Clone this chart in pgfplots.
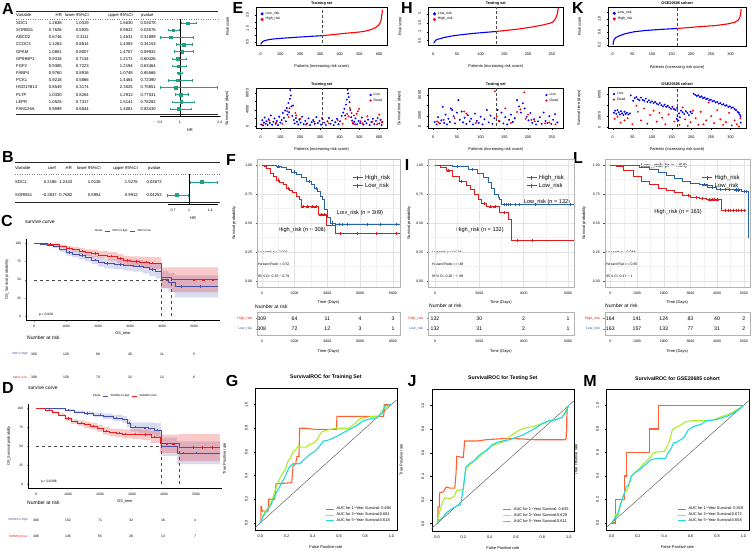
\documentclass[border=0pt]{standalone}
\usepackage{fontspec}
\setmainfont{Liberation Sans}
\usepackage{pgfplots}
\pgfplotsset{compat=1.18}
\newcommand{\fs}[1]{\fontsize{#1}{#1}\selectfont}
\definecolor{fteal}{RGB}{32,160,130}
\definecolor{cblue}{RGB}{70,80,170}
\definecolor{cred}{RGB}{232,30,30}
\definecolor{kmred}{RGB}{226,26,28}
\definecolor{kmblue}{RGB}{38,100,170}
\definecolor{rocO}{RGB}{255,95,50}
\definecolor{rocG}{RGB}{170,238,40}
\definecolor{rocC}{RGB}{30,215,225}
\pgfplotsset{
 every axis/.append style={scale only axis, anchor=north west, /pgf/number format/assume math mode=true, /pgf/number format/1000 sep={}, scaled ticks=false, tick label style={font=\fs{3.5}}, label style={font=\fs{4}}, title style={font=\fs{4.5}\bfseries}},
 baseR/.style={tick align=outside, tick pos=left, major tick length=1.4pt, axis line style={line width=0.4pt}, tick style={line width=0.3pt, black}, tick label style={font=\fs{3.8}}, yticklabel style={rotate=90, anchor=south, yshift=2.5pt}, title style={yshift=-7.5pt, font=\fs{3.8}\bfseries}, xlabel style={yshift=-4pt}, ylabel style={yshift=10pt}},
 riskax/.style={baseR, xticklabel style={yshift=-2.5pt}, xlabel style={yshift=1.5pt}, legend style={draw=none, fill=none, font=\fs{3.5}, inner sep=0.5pt, row sep=-2.5pt}, legend cell align=left, legend image code/.code={\fill[##1] (1.5pt,0pt) circle (0.9pt);}},
 ggkm/.style={tick align=outside, tick pos=left, major tick length=1.4pt, axis line style={gray!60, line width=0.4pt}, tick style={gray!60!black}, grid=both, major grid style={gray!22, line width=0.35pt}, minor grid style={gray!10, line width=0.25pt}, minor tick num=1, minor tick length=0pt, ymin=-0.05, ymax=1.05, ytick={0,0.25,0.5,0.75,1}, yticklabels={0.00,0.25,0.50,0.75,1.00}, xlabel={Time (Days)}, legend style={draw=none, fill=none, font=\fs{6}, inner sep=0.5pt, row sep=-1.5pt, at={(0.95,0.9)}, anchor=north east}, legend cell align=left, legend image code/.code={\draw[##1, mark indices={2}] plot coordinates {(0pt,0pt) (5pt,0pt) (10pt,0pt)};}},
 rtab/.style={tick align=outside, tick pos=left, major tick length=1.4pt, axis line style={gray!60, line width=0.4pt}, ymin=0, ymax=1, ytick={0.27,0.73}, xlabel={Time (Days)}, nodes near coords style={font=\fs{5.2}, anchor=center}},
 roc/.style={baseR, title style={yshift=6pt, font=\fs{5.2}\bfseries}, ylabel style={yshift=2pt}, xlabel style={yshift=3pt}, xmin=-0.04, xmax=1.04, ymin=-0.06, ymax=1.14, xtick={0,0.2,0.4,0.6,0.8,1}, ytick={0,0.2,0.4,0.6,0.8,1}, xticklabels={0.0,0.2,0.4,0.6,0.8,1.0}, yticklabels={0.0,0.2,0.4,0.6,0.8,1.0}, xlabel={False Positive rate}, ylabel={True Positive rate}, legend style={at={(0.98,0.03)}, anchor=south east, draw=none, fill=none, font=\fs{3.9}, inner sep=0.5pt, row sep=-2.5pt}, legend cell align=left, legend image code/.code={\draw[##1] (0pt,0pt) -- (8pt,0pt);}},
 kmc/.style={xmin=-250, xmax=5800, ymin=-5, ymax=105, axis lines*=left, tick align=outside, major tick length=1.4pt, xtick={0,1000,2000,3000,4000,5000}, ytick={0,25,50,75,100}, tick label style={font=\fs{3.3}}, xlabel={OS\_time}, ylabel={OS\_Survival probability}, label style={font=\fs{3.8}}, xlabel style={yshift=2pt}, legend style={at={(0.5,1.04)}, anchor=south, legend columns=-1, draw=none, fill=none, font=\fs{2.8}, inner sep=0.5pt}, legend image code/.code={\draw[##1, line width=1.2pt] (0pt,0pt) -- (5pt,0pt);}},
}
\begin{document}
\begin{tikzpicture}
\path[use as bounding box] (0,0) rectangle (753pt,-550pt);
\begin{scope}[x=1pt,y=-1pt, every node/.style={inner sep=0pt}]
\foreach \t/\x/\y in {A/8/9,B/8/157,C/7/221,D/8/388,E/238/8,F/231/160,G/232/381,H/407/8,I/407/165,J/412/381,K/578/8,L/578/158,M/590/381}
  \node[font=\fs{16}\bfseries] at (\x,\y) {\t};
\draw[line width=0.8pt, gray!30!black] (16,11) -- (218,11);
\draw[dotted, gray] (16,19) -- (218,19);
\draw[line width=0.6pt, gray!30!black] (16,114) -- (218,114);
\begin{scope}[every node/.style={font=\fs{4.2}, inner sep=0pt}]
\node[anchor=west] at (16,15) {Variable};
\node[anchor=east] at (62,15) {HR};
\node[anchor=east] at (89,15) {lower 95\%CI};
\node[anchor=east] at (133,15) {upper 95\%CI};
\node[anchor=west] at (141,15) {pvalue};
\foreach \i/\v/\h/\l/\u/\p in {1/SDC1/1.2638/1.0319/1.5630/0.03078,2/SORBS1/0.7626/0.5925/0.9822/0.03576,3/ABCD2/0.6746/0.3111/1.4631/0.31899,4/CCDC3/1.1263/0.8814/1.4393/0.34153,5/GPAM/1.0851/0.8007/1.4707/0.59932,6/GPIHBP1/0.9318/0.7134/1.2171/0.60426,7/FGF2/0.9385/0.7223/1.2194/0.63464,8/FABP4/0.9760/0.8916/1.0748/0.65566,9/PCK1/0.9218/0.5866/1.4484/0.72390,10/HSD17B13/0.8549/0.3174/2.3025/0.75651,11/PLTP/1.0330/0.8264/1.2913/0.77531,12/LEPR/1.0525/0.7317/1.5141/0.78282,13/FAM126A/0.9599/0.6544/1.4081/0.83430}{
 \pgfmathsetmacro\yy{23+(\i-1)*7.17}
 \node[anchor=west] at (16,\yy) {\v};
 \node[anchor=east] at (62,\yy) {\h};
 \node[anchor=east] at (89,\yy) {\l};
 \node[anchor=east] at (133,\yy) {\u};
 \node[anchor=east] at (156,\yy) {\p};
}
\draw[line width=0.8pt, gray!30!black] (15,162) -- (220,162);
\draw[dotted, gray] (15,174) -- (220,174);
\draw[line width=0.6pt, gray!30!black] (15,202) -- (220,202);
\node[anchor=west] at (15,168) {Variable};
\node[anchor=east] at (56,168) {coef};
\node[anchor=east] at (72,168) {HR};
\node[anchor=east] at (101,168) {lower 95\%CI};
\node[anchor=east] at (138,168) {upper 95\%CI};
\node[anchor=west] at (148,168) {pvalue};
\node[anchor=west] at (15,182) {SDC1};
\node[anchor=east] at (57,182) {0.2186};
\node[anchor=east] at (72.5,182) {1.2443};
\node[anchor=east] at (101,182) {1.0136};
\node[anchor=east] at (138,182) {1.5276};
\node[anchor=east] at (162,182) {0.03673};
\node[anchor=west] at (15,195) {SORBS1};
\node[anchor=east] at (57,195) {−0.2637};
\node[anchor=east] at (72.5,195) {0.7682};
\node[anchor=east] at (101,195) {0.5954};
\node[anchor=east] at (138,195) {0.9912};
\node[anchor=east] at (162,195) {0.04253};
\end{scope}
\node[anchor=west, font=\fs{5}] at (25,222) {survive curve};
\node[anchor=west, font=\fs{5}] at (28,388) {survive curve};
\node[anchor=west, font=\fs{5}] at (27,338) {Number at risk};
\node[anchor=west, font=\fs{5}] at (27,503) {Number at risk};
\node[font=\fs{3}, cblue] at (20,354) {SDC1=High};
\node[font=\fs{3}, cred] at (20,377) {SDC1=low};
\node[font=\fs{3}, cblue] at (18,520) {SORBS1=High};
\node[font=\fs{3}, cred] at (18,536) {SORBS1=low};
\foreach \x/\v in {34/309,66/129,98/68,130/26,162/11,194/5} \node[font=\fs{3.4}] at (\x,354) {\v};
\foreach \x/\v in {34/308,66/159,98/70,130/32,162/12,194/6} \node[font=\fs{3.4}] at (\x,377) {\v};
\foreach \x/\v in {36/309,68/152,100/71,131/32,163/16,195/4} \node[font=\fs{3.4}] at (\x,520) {\v};
\foreach \x/\v in {36/308,68/136,100/65,131/26,163/13,195/7} \node[font=\fs{3.4}] at (\x,536) {\v};
\node[rotate=90, font=\fs{4}] at (234,223) {Survival probability};
\node[rotate=90, font=\fs{4}] at (409,223) {Survival probability};
\node[rotate=90, font=\fs{4}] at (584,223) {Survival probability};
\node[font=\fs{5.6}] at (360,212.7) {Low\_risk (n = 309)};
\node[font=\fs{5.6}] at (302,230) {High\_risk (n = 308)};
\node[anchor=west, font=\fs{3.5}] at (258,252.3) {Log rank p = 0.003};
\node[anchor=west, font=\fs{3.5}] at (258,264) {Hazard Ratio = 0.52};
\node[anchor=west, font=\fs{3.5}] at (258,276) {95\% CI: 0.33 − 0.79};
\node[anchor=west, font=\fs{5}] at (255,306.7) {Number at risk};
\node[font=\fs{5.6}] at (547,201.7) {Low\_risk (n = 132)};
\node[font=\fs{5.6}] at (480,230) {High\_risk (n = 132)};
\node[anchor=west, font=\fs{3.5}] at (432,252.3) {Log rank p = 0.018};
\node[anchor=west, font=\fs{3.5}] at (432,264) {Hazard Ratio = 0.48};
\node[anchor=west, font=\fs{3.5}] at (432,276) {95\% CI: 0.26 − 0.88};
\node[anchor=west, font=\fs{5}] at (429,306) {Number at risk};
\node[font=\fs{5.6}] at (664,165.7) {Low\_risk (n = 164)};
\node[font=\fs{5.6}] at (678,212.3) {High\_risk (n = 163)};
\node[anchor=west, font=\fs{3.5}] at (606,252.3) {Log rank p = 0.048};
\node[anchor=west, font=\fs{3.5}] at (606,264) {Hazard Ratio = 0.65};
\node[anchor=west, font=\fs{3.5}] at (606,276) {95\% CI: 0.42 − 1};
\node[anchor=west, font=\fs{5}] at (605,306) {Number at risk};
\end{scope}

% ================= A forest
\begin{axis}[at={(160pt,-19pt)}, width=59.7pt, height=97pt, xmin=0.3, xmax=2.4, ymin=-13.98, ymax=-0.44, axis x line*=bottom, axis y line=none, xtick={0.3,1,2.4}, tick align=outside, major tick length=1.4pt, xlabel={HR}, xlabel style={yshift=2pt}, clip=false]
\draw[line width=0.5pt] (axis cs:1,-0.44) -- (axis cs:1,-13.98);
\addplot[fteal, only marks, mark=square*, mark size=1.3pt, error bars/.cd, x dir=both, x explicit, error bar style={line width=0.5pt}] table[x=hr, y expr=-\thisrow{r}, x error plus expr=\thisrow{up}-\thisrow{hr}, x error minus expr=\thisrow{hr}-\thisrow{lo}] {
r hr lo up
1 1.2638 1.0319 1.5630
2 0.7626 0.5925 0.9822
3 0.6746 0.3111 1.4631
4 1.1263 0.8814 1.4393
5 1.0851 0.8007 1.4707
6 0.9318 0.7134 1.2171
7 0.9385 0.7223 1.2194
8 0.9760 0.8916 1.0748
9 0.9218 0.5866 1.4484
10 0.8549 0.3174 2.3025
11 1.0330 0.8264 1.2913
12 1.0525 0.7317 1.5141
13 0.9599 0.6544 1.4081
};
\end{axis}
% ================= B forest
\begin{axis}[at={(167.8pt,-174pt)}, width=50.4pt, height=30pt, xmin=0.6, xmax=1.55, ymin=-2.69, ymax=-0.385, axis x line*=bottom, axis y line=none, xtick={0.7,1,1.4}, tick align=outside, major tick length=1.4pt, xlabel={HR}, xlabel style={yshift=2pt}, clip=false]
\draw[line width=0.5pt] (axis cs:1,-0.385) -- (axis cs:1,-2.69);
\addplot[fteal, only marks, mark=square*, mark size=1.5pt, error bars/.cd, x dir=both, x explicit, error bar style={line width=0.5pt}] table[x=hr, y expr=-\thisrow{r}, x error plus expr=\thisrow{up}-\thisrow{hr}, x error minus expr=\thisrow{hr}-\thisrow{lo}] {
r hr lo up
1 1.2443 1.0136 1.5276
2 0.7682 0.5954 0.9912
};
\end{axis}

% ================= C KM
\begin{axis}[kmc, at={(26pt,-239.4pt)}, width=193.6pt, height=80.7pt]
\addplot[fill=cblue!70, fill opacity=0.3, draw=none, const plot, forget plot] coordinates {(0,100)(200,100)(400,98.5)(600,97)(800,94)(1000,91)(1200,89.5)(1400,88)(1600,85)(1800,82.5)(2000,80)(2200,78.5)(2500,78)(2800,77.5)(3100,77)(3400,75.5)(3600,73)(3800,72)(3980,62)(4200,59)(4400,56)(5750,57)(5750,26)(4400,33)(4200,38)(3980,52)(3800,55)(3600,58.5)(3400,61)(3100,62.5)(2800,64)(2500,65.5)(2200,68)(2000,71.5)(1800,75)(1600,78)(1400,80.5)(1200,83)(1000,88)(800,93)(600,95.5)(400,98)(200,100)(0,100)};
\addplot[fill=cred!80, fill opacity=0.3, draw=none, const plot, forget plot] coordinates {(0,100)(200,100)(400,100)(600,99.5)(800,98)(1000,96)(1200,94.5)(1400,93)(1600,91.5)(1800,91)(2000,89)(2300,87.5)(2600,85)(2800,82.5)(3000,82)(3300,81.5)(3600,81)(3970,67)(4300,67)(5750,68)(5750,33)(4300,39)(3970,65)(3600,66.5)(3300,68)(3000,69.5)(2800,73)(2600,76.5)(2300,79)(2000,81)(1800,82.5)(1600,85)(1400,87.5)(1200,90)(1000,94)(800,96.5)(600,98)(400,99)(200,100)(0,100)};
\addplot[dashed, black!70, line width=0.3pt, forget plot] coordinates {(0,50)(4300,50)};
\addplot[dashed, black!70, line width=0.3pt, forget plot] coordinates {(3980,0)(3980,50)};
\addplot[dashed, black!70, line width=0.3pt, forget plot] coordinates {(4300,0)(4300,50)};
\addlegendimage{empty legend}\addlegendentry{Strata}
\addplot[cblue, line width=0.6pt, const plot] coordinates {(0,100)(200,99)(400,97)(600,95)(800,91)(1000,87)(1200,85)(1400,83)(1600,80)(1800,77)(2000,74)(2200,72)(2500,71)(2800,70)(3100,69)(3400,67)(3600,64)(3800,62)(3980,50)(4200,46)(4400,41)(5750,41)};
\addlegendentry{SDC1=High}
\addplot[cred, line width=0.6pt, const plot] coordinates {(0,100)(200,99.5)(400,99)(600,98)(800,96)(1000,93)(1200,91)(1400,89)(1600,87)(1800,86)(2000,84)(2300,82)(2600,79)(2800,76)(3000,75)(3300,74)(3600,73)(3970,53)(4300,50)(5750,50)};
\addlegendentry{SDC1=low}
\addplot[cblue, only marks, mark=+, mark size=1.2pt, forget plot] coordinates {(500,97)(1100,87)(1500,83)(1900,77)(2300,72)(2700,71)(3300,69)(3700,64)(4600,41)(5200,41)};
\addplot[cred, only marks, mark=+, mark size=1.2pt, forget plot] coordinates {(500,99)(1100,93)(1500,89)(1900,86)(2400,82)(2700,79)(2900,76)(3200,75)(3500,74)(3700,73)(5000,50)(5300,50)(5600,50)};
\node[anchor=west, font=\fs{3.3}, inner sep=0pt] at (axis cs:150,3) {p = 0.048};
\end{axis}

% ================= D KM
\begin{axis}[kmc, at={(28pt,-404.2pt)}, width=193.6pt, height=83.6pt]
\addplot[fill=cblue!70, fill opacity=0.3, draw=none, const plot, forget plot] coordinates {(0,100)(300,100)(600,100)(900,98.5)(1200,97)(1500,95.5)(1800,94)(2100,92.5)(2400,91)(2700,89.5)(2850,85)(2950,81)(3200,81)(3500,81)(3700,80)(3900,61)(4400,56)(5750,57)(5750,26)(4400,37)(3900,62)(3700,65)(3500,67)(3200,69)(2950,75)(2850,80.5)(2700,83)(2400,85.5)(2100,88)(1800,90.5)(1500,93)(1200,95.5)(900,98)(600,99)(300,100)(0,100)};
\addplot[fill=cred!80, fill opacity=0.3, draw=none, const plot, forget plot] coordinates {(0,100)(150,99.5)(300,98)(500,95.5)(700,93)(900,88.5)(1100,85)(1300,83.5)(1500,82)(1700,80)(1900,77.5)(2100,75)(2300,73)(2500,72.5)(2700,72)(3000,72.5)(3300,72)(3600,70)(3870,65)(4470,66)(5750,68)(5750,30)(4470,41)(3870,54)(3600,58)(3300,59.5)(3000,60)(2700,61.5)(2500,63)(2300,65)(2100,68.5)(1900,72)(1700,74)(1500,76.5)(1300,79)(1100,83.5)(900,89)(700,92.5)(500,96)(300,98.5)(150,100)(0,100)};
\addplot[dashed, black!70, line width=0.3pt, forget plot] coordinates {(0,50)(4470,50)};
\addplot[dashed, black!70, line width=0.3pt, forget plot] coordinates {(3900,0)(3900,50)};
\addplot[dashed, black!70, line width=0.3pt, forget plot] coordinates {(4470,0)(4470,50)};
\addlegendimage{empty legend}\addlegendentry{Strata}
\addplot[cblue, line width=0.6pt, const plot] coordinates {(0,100)(300,99.5)(600,99)(900,97)(1200,95)(1500,93)(1800,91)(2100,89)(2400,87)(2700,85)(2850,80)(2950,75)(3200,74)(3500,73)(3700,71)(3900,49)(4400,41)(5750,41)};
\addlegendentry{SORBS1=High}
\addplot[cred, line width=0.6pt, const plot] coordinates {(0,100)(150,99)(300,97)(500,94)(700,91)(900,86)(1100,82)(1300,80)(1500,78)(1700,76)(1900,73)(2100,70)(2300,68)(2500,67)(2700,66)(3000,66)(3300,65)(3600,62)(3870,53)(4470,48)(5750,48)};
\addlegendentry{SORBS1=low}
\addplot[cblue, only marks, mark=+, mark size=1.2pt, forget plot] coordinates {(1000,97)(1600,93)(2000,91)(2500,87)(2900,80)(3100,75)(3400,74)(3800,71)(4600,41)(5000,41)};
\addplot[cred, only marks, mark=+, mark size=1.2pt, forget plot] coordinates {(400,97)(1000,86)(1400,80)(1800,76)(2200,70)(2600,67)(2800,66)(3100,66)(3400,65)(3700,62)(4100,53)(4300,53)(4900,48)(5200,48)(5500,48)};
\node[anchor=west, font=\fs{3.3}, inner sep=0pt] at (axis cs:150,3) {p = 0.0396};
\end{axis}

% ================= E risk
\begin{axis}[riskax, at={(256pt,-7.3pt)}, width=131.4pt, height=37.7pt, xmin=-23.6, xmax=641.6, ymin=0.25, ymax=3.09, xtick={0,100,200,300,400,500,600}, ytick={0.5,1,1.5,2,2.5}, yticklabels={0.5,,1.5,,2.5}, title={Training set}, xlabel={Patients (increasing risk score)}, ylabel={Risk score}, legend style={at={(0.03,0.95)}, anchor=north west}]
\addplot[blue, line width=1.1pt] coordinates {(1,0.3)(3,0.38)(10,0.5)(20,0.58)(40,0.65)(62,0.7)(100,0.75)(178,0.83)(250,0.9)(309,0.95)};
\addlegendentry{Low\_risk}
\addplot[red, line width=1.1pt] coordinates {(309,0.95)(370,1.04)(428,1.13)(480,1.2)(512,1.25)(540,1.33)(562,1.43)(580,1.55)(595,1.7)(603,1.88)(609,2.1)(612,2.38)(615,2.7)(617,2.9)};
\addlegendentry{High\_risk}
\addplot[densely dashed, black!70, line width=0.3pt, forget plot] coordinates {(309,0)(309,4)};
\end{axis}
\begin{axis}[riskax, at={(256pt,-88.3pt)}, width=131.4pt, height=40pt, xmin=-23.6, xmax=641.6, ymin=-480, ymax=9130, xtick={0,100,200,300,400,500,600}, ytick={0,2000,4000,6000,8000}, yticklabels={0,,4000,,8000}, title={Training set}, xlabel={Patients (increasing risk score)}, ylabel={Survival time (days)}, legend style={at={(0.98,0.95)}, anchor=north east}]
\addplot[blue, only marks, mark=*, mark size=0.75pt] coordinates {(3,400)(8,1500)(12,200)(16,900)(20,2100)(25,600)(30,1200)(35,300)(40,1700)(46,800)(52,2600)(58,400)(64,1100)(70,1900)(76,600)(82,1300)(88,300)(94,2300)(100,900)(106,1500)(112,3200)(118,2000)(124,3800)(128,1200)(132,4400)(136,2800)(140,5600)(144,3400)(148,6600)(150,8700)(153,7400)(156,4800)(160,2500)(164,5000)(168,1500)(172,700)(178,2000)(184,1100)(190,400)(196,1600)(202,900)(210,2300)(218,500)(226,1300)(234,700)(242,1900)(250,300)(258,1000)(266,1500)(274,600)(282,2200)(290,800)(298,1300)(306,400)(314,1700)(322,900)(330,300)(338,1200)(346,2000)(354,600)(362,1400)(370,300)(378,1000)(386,1800)(394,500)(402,1200)(410,2500)(418,3300)(424,4200)(428,2600)(432,5200)(436,6400)(440,8800)(443,7900)(446,7000)(450,5800)(454,3900)(458,2200)(463,1400)(468,600)(474,1100)(480,1900)(488,500)(496,1300)(504,800)(512,2100)(520,400)(528,1200)(536,700)(544,1600)(552,300)(560,1000)(568,1800)(576,500)(584,1300)(592,2000)(600,700)(606,1500)(612,300)(616,1100)};
\addlegendentry{Live}
\addplot[red, only marks, mark=*, mark size=0.75pt] coordinates {(10,300)(44,1400)(78,900)(110,600)(134,3600)(142,2200)(146,4300)(176,3200)(180,2600)(200,1800)(230,400)(270,1100)(310,2000)(345,700)(390,1500)(415,600)(430,1800)(438,3000)(445,2400)(452,4400)(460,3200)(466,900)(472,2600)(478,500)(486,3000)(492,3600)(498,4200)(506,1200)(515,700)(540,2400)(565,1100)(590,500)(600,2800)(608,1600)(614,900)};
\addlegendentry{Dead}
\addplot[densely dashed, black!70, line width=0.3pt, forget plot] coordinates {(309,-1000)(309,10000)};
\end{axis}

% ================= H risk
\begin{axis}[riskax, at={(428.3pt,-7.3pt)}, width=135pt, height=37.7pt, xmin=-10.5, xmax=274.5, ymin=0.25, ymax=2.37, xtick={0,50,100,150,200,250}, ytick={0.5,1,1.5,2}, title={Testing set}, xlabel={Patients (increasing risk score)}, ylabel={Risk score}, legend style={at={(0.03,0.95)}, anchor=north west}]
\addplot[blue, line width=1.1pt] coordinates {(1,0.35)(3,0.45)(6,0.53)(10,0.58)(14,0.6)(21,0.66)(32,0.72)(42,0.77)(63,0.84)(84,0.9)(105,0.95)(132,1.01)};
\addlegendentry{Low\_risk}
\addplot[red, line width=1.1pt] coordinates {(132,1.01)(158,1.08)(183,1.16)(208,1.26)(232,1.38)(246,1.47)(253,1.55)(257,1.7)(260,1.85)(262,2.0)(263,2.2)(264,2.35)};
\addlegendentry{High\_risk}
\addplot[densely dashed, black!70, line width=0.3pt, forget plot] coordinates {(132,0)(132,3)};
\end{axis}
\begin{axis}[riskax, at={(428.3pt,-88.3pt)}, width=135pt, height=40pt, xmin=-10.5, xmax=274.5, ymin=-445, ymax=7290, xtick={0,50,100,150,200,250}, ytick={0,2000,4000,6000}, yticklabels={0,2000,,6000}, title={Testing set}, xlabel={Patients (increasing risk score)}, ylabel={Survival time (days)}, legend style={at={(0.98,0.95)}, anchor=north east}]
\addplot[blue, only marks, mark=*, mark size=0.75pt] coordinates {(3,800)(7,300)(10,1700)(14,500)(17,1100)(20,3700)(23,600)(26,2200)(29,300)(32,1400)(35,800)(37,3400)(40,3100)(43,1900)(46,500)(50,2600)(53,5000)(56,1200)(60,2800)(63,700)(66,1600)(70,400)(73,2100)(77,900)(80,1400)(84,300)(88,2400)(92,1000)(96,600)(100,1800)(104,300)(108,1300)(113,3100)(117,700)(121,2000)(125,400)(129,1500)(136,3100)(140,900)(144,2600)(148,500)(152,1700)(156,300)(160,1200)(164,2200)(168,800)(172,1500)(177,5000)(181,3800)(185,2600)(189,4400)(193,3400)(197,1800)(201,1100)(205,2500)(209,600)(213,1300)(217,300)(221,900)(225,1700)(229,400)(233,2600)(237,1000)(241,600)(245,1900)(249,400)(253,1200)(257,2300)(262,700)};
\addlegendentry{Live}
\addplot[red, only marks, mark=*, mark size=0.75pt] coordinates {(8,900)(11,700)(22,1200)(45,1500)(65,2800)(70,2400)(90,600)(130,6700)(134,1800)(138,1000)(152,3400)(164,600)(177,2700)(184,3200)(192,6500)(195,1400)(200,2200)(207,1200)(214,900)(236,500)(245,700)(258,300)};
\addlegendentry{Dead}
\addplot[densely dashed, black!70, line width=0.3pt, forget plot] coordinates {(132,-1000)(132,8000)};
\end{axis}

% ================= K risk
\begin{axis}[riskax, at={(608pt,-6.7pt)}, width=138.3pt, height=39pt, xmin=-12, xmax=340, ymin=0.17, ymax=1.37, xtick={0,50,100,150,200,250,300}, ytick={0.2,0.4,0.6,0.8,1.0,1.2}, yticklabels={0.2,,0.6,,1.0,}, title={GSE20685 cohort}, xlabel={Patients (increasing risk score)}, ylabel={Risk score}, legend style={at={(0.03,0.95)}, anchor=north west}]
\addplot[blue, line width=1.1pt] coordinates {(1,0.2)(2,0.3)(4,0.37)(8,0.42)(16,0.47)(32,0.54)(55,0.6)(85,0.64)(120,0.67)(164,0.7)};
\addlegendentry{Low\_risk}
\addplot[red, line width=1.1pt] coordinates {(164,0.7)(195,0.73)(225,0.76)(262,0.79)(292,0.84)(310,0.89)(319,0.95)(323,1.02)(325,1.12)(326,1.2)(327,1.3)};
\addlegendentry{High\_risk}
\addplot[densely dashed, black!70, line width=0.3pt, forget plot] coordinates {(164,0)(164,2)};
\end{axis}
\begin{axis}[riskax, at={(608pt,-87.3pt)}, width=138.3pt, height=41pt, xmin=-12, xmax=340, ymin=-240, ymax=7283, xtick={0,50,100,150,200,250,300}, ytick={0,2000,4000,6000}, yticklabels={0,2000,,6000}, title={GSE20685 cohort}, xlabel={Patients (increasing risk score)}, ylabel={Survival time (days)}, legend style={at={(0.03,0.95)}, anchor=north west}]
\addplot[blue, only marks, mark=*, mark size=0.75pt] coordinates {(3,2600)(6,3000)(9,2400)(12,3100)(15,2700)(18,2300)(21,2900)(24,2500)(27,2200)(30,2800)(33,2400)(36,2600)(40,2300)(44,2500)(46,5800)(52,4800)(56,5300)(60,5500)(64,5100)(68,4900)(72,5400)(76,5000)(80,4800)(84,5200)(88,4600)(92,4900)(96,4500)(100,4700)(104,4400)(108,4600)(112,4300)(116,4100)(120,4400)(124,4000)(128,3800)(132,4100)(136,3700)(140,3900)(144,3600)(148,3400)(152,3700)(156,3300)(160,3100)(164,3500)(163,1500)(165,2000)(167,1200)(169,2500)(171,1800)(174,3000)(178,2700)(182,2400)(186,2900)(190,2600)(194,2200)(198,2800)(202,2500)(206,6100)(210,5900)(214,5700)(218,5800)(222,5500)(226,5600)(230,5300)(234,5400)(238,5100)(242,5200)(246,4900)(250,5000)(254,4700)(258,4800)(262,4500)(266,4600)(270,4300)(274,4400)(278,4100)(282,4200)(286,3900)(290,4000)(294,3700)(298,3800)(302,3500)(306,3600)(310,3300)(314,3100)(318,2800)(321,2600)(323,2300)(325,2000)(326,800)};
\addlegendentry{Live}
\addplot[red, only marks, mark=*, mark size=0.75pt] coordinates {(5,1500)(12,1900)(20,800)(30,1200)(38,1600)(50,500)(60,3900)(64,2800)(72,1200)(80,3400)(88,600)(95,2200)(104,3000)(112,1000)(119,2600)(126,1700)(134,500)(142,2300)(150,3300)(157,1000)(170,400)(178,3600)(184,1400)(191,200)(198,900)(204,3000)(211,1600)(218,400)(224,2800)(231,500)(238,1200)(244,4500)(251,2000)(258,700)(266,3100)(274,1400)(281,400)(288,900)(296,2600)(303,300)(310,1200)(316,500)(321,100)(325,1600)};
\addlegendentry{Dead}
\addplot[densely dashed, black!70, line width=0.3pt, forget plot] coordinates {(164,-1000)(164,8000)};
\end{axis}

% ================= F KM
\begin{axis}[ggkm, at={(257pt,-159.2pt)}, width=143pt, height=127.6pt, xmin=-290, xmax=8430, xtick={0,2000,4000,6000,8000}]
\addlegendimage{kmred, line width=0.9pt, mark=+, mark size=2pt}\addlegendentry{High\_risk}
\addlegendimage{kmblue, line width=0.9pt, mark=+, mark size=2pt}\addlegendentry{Low\_risk}
\addplot[kmblue, line width=0.9pt, const plot, forget plot] coordinates {(0,1)(600,0.995)(900,0.985)(1200,0.975)(1500,0.96)(1800,0.94)(2100,0.92)(2400,0.89)(2700,0.86)(3000,0.83)(3200,0.80)(3400,0.77)(3600,0.73)(3700,0.70)(3850,0.62)(4000,0.55)(4170,0.50)(4500,0.49)(8430,0.49)};
\addplot[kmred, line width=0.9pt, const plot, forget plot] coordinates {(0,1)(150,0.99)(300,0.97)(500,0.93)(700,0.90)(900,0.87)(1100,0.85)(1300,0.83)(1500,0.80)(1700,0.78)(1900,0.76)(2100,0.73)(2300,0.70)(2400,0.64)(3430,0.57)(3920,0.48)(4470,0.41)(8430,0.41)};
\addplot[kmred, only marks, mark=+, mark size=1.6pt, forget plot] coordinates {(1000,0.87)(1600,0.80)(2500,0.64)(2800,0.64)(3100,0.64)(3300,0.64)(3600,0.57)(3800,0.57)(4800,0.41)(5800,0.41)(7000,0.41)(8200,0.41)};
\addplot[kmblue, only marks, mark=+, mark size=1.6pt, forget plot] coordinates {(1000,0.985)(2000,0.94)(2900,0.86)(3300,0.80)(4300,0.50)(4700,0.49)(4900,0.49)(5200,0.49)(6400,0.49)(7200,0.49)(8200,0.49)};
\end{axis}
\begin{axis}[rtab, at={(257pt,-312pt)}, width=143pt, height=23pt, xmin=-290, xmax=8430, xtick={0,2000,4000,6000,8000}, yticklabels={\textcolor{kmblue}{Low\_risk},\textcolor{kmred}{High\_risk}}]
\addplot[draw=none, nodes near coords, point meta=explicit symbolic] coordinates {(0,0.73)[309] (2000,0.73)[64] (4000,0.73)[11] (6000,0.73)[4] (8000,0.73)[3] (0,0.27)[308] (2000,0.27)[72] (4000,0.27)[12] (6000,0.27)[3] (8000,0.27)[1]};
\end{axis}

% ================= I KM
\begin{axis}[ggkm, at={(428pt,-159.2pt)}, width=146pt, height=127.6pt, xmin=-315, xmax=6270, xtick={0,2000,4000,6000}]
\addlegendimage{kmred, line width=0.9pt, mark=+, mark size=2pt}\addlegendentry{High\_risk}
\addlegendimage{kmblue, line width=0.9pt, mark=+, mark size=2pt}\addlegendentry{Low\_risk}
\addplot[kmblue, line width=0.9pt, const plot, forget plot] coordinates {(0,1)(800,0.99)(1500,0.96)(1900,0.93)(2200,0.89)(2400,0.85)(2550,0.80)(2700,0.75)(2850,0.72)(2930,0.70)(3000,0.66)(6270,0.66)};
\addplot[kmred, line width=0.9pt, const plot, forget plot] coordinates {(0,1)(250,0.98)(500,0.95)(800,0.90)(1100,0.86)(1400,0.82)(1600,0.79)(1800,0.75)(1950,0.70)(2100,0.67)(2330,0.64)(2930,0.59)(3300,0.53)(3450,0.35)(6270,0.35)};
\addplot[kmred, only marks, mark=+, mark size=1.6pt, forget plot] coordinates {(600,0.95)(1200,0.86)(2200,0.67)(2500,0.64)(2700,0.64)(3100,0.59)(3700,0.35)(4400,0.35)};
\addplot[kmblue, only marks, mark=+, mark size=1.6pt, forget plot] coordinates {(1000,0.99)(1700,0.96)(3100,0.66)(3200,0.66)(3300,0.66)(3400,0.66)(3600,0.66)(3800,0.66)(4500,0.66)(6100,0.66)};
\end{axis}
\begin{axis}[rtab, at={(428pt,-312pt)}, width=146pt, height=23pt, xmin=-315, xmax=6270, xtick={0,2000,4000,6000}, yticklabels={\textcolor{kmblue}{Low\_risk},\textcolor{kmred}{High\_risk}}]
\addplot[draw=none, nodes near coords, point meta=explicit symbolic] coordinates {(0,0.73)[132] (2000,0.73)[30] (4000,0.73)[2] (6000,0.73)[1] (0,0.27)[132] (2000,0.27)[31] (4000,0.27)[2] (6000,0.27)[1]};
\end{axis}

% ================= L KM
\begin{axis}[ggkm, at={(604.7pt,-159.2pt)}, width=145pt, height=127.6pt, xmin=-210, xmax=5220, xtick={0,1000,2000,3000,4000,5000}]
\addlegendimage{kmred, line width=0.9pt, mark=+, mark size=2pt}\addlegendentry{High\_risk}
\addlegendimage{kmblue, line width=0.9pt, mark=+, mark size=2pt}\addlegendentry{Low\_risk}
\addplot[kmblue, line width=0.9pt, const plot, forget plot] coordinates {(0,1)(850,0.995)(1100,0.98)(1470,0.96)(1800,0.935)(2100,0.91)(2400,0.885)(2720,0.86)(3000,0.845)(3340,0.83)(3650,0.81)(3960,0.79)(4590,0.785)(4900,0.77)(5160,0.37)};
\addplot[kmred, line width=0.9pt, const plot, forget plot] coordinates {(0,1)(225,0.99)(500,0.95)(850,0.90)(1150,0.86)(1470,0.83)(1800,0.80)(2100,0.78)(2400,0.76)(2720,0.74)(3000,0.72)(3340,0.71)(3600,0.70)(4160,0.61)(5100,0.61)};
\addplot[kmred, only marks, mark=+, mark size=1.6pt, forget plot] coordinates {(2900,0.74)(3200,0.72)(3450,0.71)(3700,0.70)(3800,0.70)(3900,0.70)(4000,0.70)(4300,0.61)(4400,0.61)(4500,0.61)(4600,0.61)(4700,0.61)(4800,0.61)(4900,0.61)(5000,0.61)};
\addplot[kmblue, only marks, mark=+, mark size=1.6pt, forget plot] coordinates {(3500,0.83)(3800,0.81)(4100,0.79)(4300,0.79)(4450,0.79)(4700,0.785)(4800,0.785)(5000,0.77)(5100,0.77)};
\end{axis}
\begin{axis}[rtab, at={(604.7pt,-312pt)}, width=145pt, height=23pt, xmin=-210, xmax=5220, xtick={0,1000,2000,3000,4000,5000}, yticklabels={\textcolor{kmblue}{Low\_risk},\textcolor{kmred}{High\_risk}}]
\addplot[draw=none, nodes near coords, point meta=explicit symbolic] coordinates {(0,0.73)[164] (1000,0.73)[141] (2000,0.73)[124] (3000,0.73)[83] (4000,0.73)[40] (5000,0.73)[2] (0,0.27)[163] (1000,0.27)[157] (2000,0.27)[133] (3000,0.27)[77] (4000,0.27)[31] (5000,0.27)[2]};
\end{axis}

% ================= G ROC
\begin{axis}[roc, at={(255pt,-388pt)}, width=141.7pt, height=142pt, title={SurvivalROC for Training Set}]
\addplot[black!70, line width=0.4pt, forget plot] coordinates {(-0.1,-0.1)(1.2,1.2)};
\addplot[rocO, line width=1.1pt] coordinates {(0,0)(0.005,0)(0.005,0.14)(0.01,0.14)(0.015,0.1)(0.06,0.1)(0.065,0.2)(0.11,0.2)(0.12,0.33)(0.24,0.34)(0.25,0.48)(0.27,0.5)(0.28,0.56)(0.295,0.56)(0.3,0.8)(0.35,0.8)(0.42,0.79)(0.5,0.79)(0.58,0.79)(0.585,0.9)(0.75,0.9)(0.94,0.9)(0.945,0.95)(0.945,1)(1,1)};
\addlegendentry{AUC for 1−Year Survival: 0.694}
\addplot[rocG, line width=1.1pt] coordinates {(0,0)(0.02,0.06)(0.04,0.1)(0.07,0.14)(0.09,0.2)(0.11,0.26)(0.13,0.33)(0.16,0.4)(0.19,0.45)(0.21,0.52)(0.23,0.55)(0.25,0.6)(0.27,0.62)(0.29,0.65)(0.31,0.64)(0.35,0.64)(0.37,0.66)(0.4,0.67)(0.43,0.7)(0.45,0.74)(0.47,0.77)(0.5,0.78)(0.53,0.79)(0.58,0.8)(0.62,0.8)(0.68,0.8)(0.72,0.84)(0.76,0.88)(0.8,0.89)(0.86,0.9)(0.9,0.9)(0.93,0.95)(0.96,0.98)(1,1)};
\addlegendentry{AUC for 3−Year Survival:0.681}
\addplot[rocC, line width=1.1pt] coordinates {(0,0)(0.02,0.05)(0.05,0.1)(0.08,0.15)(0.1,0.2)(0.12,0.25)(0.15,0.31)(0.18,0.37)(0.2,0.42)(0.22,0.47)(0.25,0.5)(0.3,0.5)(0.33,0.53)(0.35,0.55)(0.38,0.58)(0.41,0.6)(0.43,0.62)(0.46,0.66)(0.48,0.69)(0.52,0.7)(0.58,0.73)(0.63,0.76)(0.68,0.79)(0.73,0.82)(0.78,0.86)(0.84,0.88)(0.89,0.89)(0.93,0.93)(0.95,0.99)(1,1)};
\addlegendentry{AUC for 5−Year Survival:0.618}
\end{axis}

% ================= J ROC
\begin{axis}[roc, at={(431.7pt,-389pt)}, width=142.3pt, height=141.7pt, title={SurvivalROC for Testing Set}]
\addplot[black!70, line width=0.4pt, forget plot] coordinates {(-0.1,-0.1)(1.2,1.2)};
\addplot[rocO, line width=1.1pt] coordinates {(0,0)(0.008,0)(0.008,0.14)(0.018,0.14)(0.02,0.26)(0.05,0.27)(0.07,0.31)(0.1,0.3)(0.135,0.3)(0.145,0.43)(0.15,0.57)(0.2,0.56)(0.21,0.7)(0.3,0.7)(0.37,0.71)(0.5,0.72)(0.6,0.72)(0.75,0.71)(0.97,0.71)(0.98,0.72)(0.985,0.8)(0.985,0.9)(0.99,0.99)(1,1)};
\addlegendentry{AUC for 1−Year Survival: 0.635}
\addplot[rocG, line width=1.1pt] coordinates {(0,0)(0.02,0.1)(0.04,0.18)(0.06,0.22)(0.1,0.21)(0.13,0.23)(0.15,0.28)(0.2,0.29)(0.21,0.4)(0.22,0.47)(0.25,0.5)(0.28,0.53)(0.32,0.56)(0.35,0.6)(0.38,0.63)(0.42,0.66)(0.47,0.68)(0.52,0.7)(0.55,0.74)(0.58,0.76)(0.62,0.79)(0.67,0.81)(0.72,0.82)(0.78,0.84)(0.82,0.85)(0.85,0.87)(0.9,0.88)(0.95,0.9)(0.98,0.96)(1,1)};
\addlegendentry{AUC for 3−Year Survival:0.629}
\addplot[rocC, line width=1.1pt] coordinates {(0,0)(0.02,0.03)(0.05,0.06)(0.08,0.1)(0.12,0.13)(0.15,0.15)(0.18,0.16)(0.2,0.3)(0.22,0.48)(0.25,0.51)(0.28,0.53)(0.32,0.58)(0.35,0.6)(0.38,0.62)(0.42,0.67)(0.46,0.69)(0.5,0.7)(0.55,0.71)(0.6,0.73)(0.65,0.75)(0.7,0.78)(0.75,0.81)(0.8,0.85)(0.85,0.87)(0.9,0.88)(0.95,0.9)(0.98,0.95)(1,1)};
\addlegendentry{AUC for 5−Year Survival:0.611}
\end{axis}

% ================= M ROC
\begin{axis}[roc, at={(606.3pt,-389pt)}, width=142.4pt, height=141pt, title={SurvivalROC for GSE20685 cohort}]
\addplot[black!70, line width=0.4pt, forget plot] coordinates {(-0.1,-0.1)(1.2,1.2)};
\addplot[rocO, line width=1.1pt] coordinates {(0,0)(0.03,0)(0.03,0.2)(0.1,0.2)(0.1,0.4)(0.115,0.4)(0.115,0.6)(0.29,0.6)(0.29,0.8)(0.355,0.8)(0.355,1)(1,1)};
\addlegendentry{AUC for 1−Year Survival: 0.819}
\addplot[rocG, line width=1.1pt] coordinates {(0,0)(0.02,0.03)(0.03,0.07)(0.05,0.07)(0.06,0.14)(0.08,0.2)(0.1,0.27)(0.12,0.28)(0.14,0.36)(0.16,0.41)(0.2,0.45)(0.24,0.5)(0.27,0.53)(0.3,0.57)(0.32,0.6)(0.4,0.61)(0.42,0.65)(0.44,0.7)(0.46,0.79)(0.48,0.81)(0.52,0.83)(0.56,0.86)(0.6,0.87)(0.74,0.87)(0.78,0.88)(0.82,0.9)(0.9,0.93)(0.96,0.97)(1,1)};
\addlegendentry{AUC for 3−Year Survival:0.672}
\addplot[rocC, line width=1.1pt] coordinates {(0,0)(0.02,0.03)(0.04,0.06)(0.06,0.12)(0.08,0.2)(0.1,0.26)(0.11,0.31)(0.13,0.32)(0.15,0.4)(0.18,0.43)(0.22,0.46)(0.26,0.5)(0.3,0.54)(0.35,0.55)(0.41,0.55)(0.43,0.6)(0.45,0.63)(0.47,0.68)(0.5,0.69)(0.55,0.73)(0.58,0.79)(0.62,0.82)(0.68,0.84)(0.72,0.87)(0.8,0.88)(0.88,0.91)(0.93,0.94)(0.97,0.97)(1,1)};
\addlegendentry{AUC for 5−Year Survival:0.658}
\end{axis}
\end{tikzpicture}
\end{document}
